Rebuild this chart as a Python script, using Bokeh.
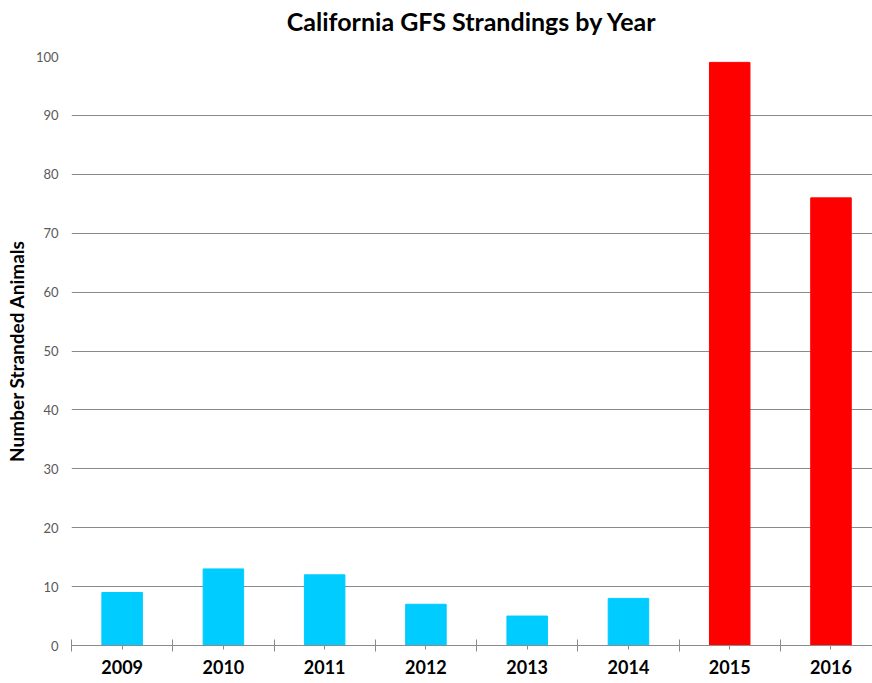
from bokeh.plotting import figure
from bokeh.models import Range1d, FixedTicker, ColumnDataSource, LinearAxis
from bokeh.embed import file_html
from bokeh.resources import INLINE

# Stranding counts per year
years = ["2009", "2010", "2011", "2012", "2013", "2014", "2015", "2016"]
counts = [9, 13, 12, 7, 5, 8, 99, 76]
colors = ["#00CCFF"] * 6 + ["#FF0000"] * 2
y_ticks = [0, 10, 20, 30, 40, 50, 60, 70, 80, 90, 100]
title_text = "California GFS Strandings by Year"

xs = list(range(len(years)))
src = ColumnDataSource(dict(x=xs, top=counts, color=colors))

x_start, x_end = -0.5, 7.41
p = figure(
    width=872, height=683,
    output_backend="svg", toolbar_location=None,
    x_range=Range1d(x_start, x_end), y_range=Range1d(0, 100),
    min_border_left=71, min_border_right=0,
    min_border_top=56, min_border_bottom=38,
)
p.outline_line_color = None
p.background_fill_color = "white"
p.border_fill_color = "white"

p.vbar(x="x", top="top", width=0.4, color="color", source=src)

# heading: a bare axis above the plot whose label carries the chart title
heading = LinearAxis(
    ticker=FixedTicker(ticks=[]),
    axis_line_color=None,
    major_tick_line_color=None, minor_tick_line_color=None,
    major_tick_in=0, major_tick_out=0, minor_tick_in=0, minor_tick_out=0,
    major_label_standoff=0,
    axis_label=title_text,
    axis_label_standoff=21,
    axis_label_text_font="Lato",
    axis_label_text_font_size="25px",
    axis_label_text_font_style="bold",
    axis_label_text_color="black",
)
p.add_layout(heading, "above")

# y axis: labels only, grid lines carry the scale
p.yaxis.ticker = FixedTicker(ticks=y_ticks)
p.yaxis.axis_line_color = None
p.yaxis.major_tick_line_color = None
p.yaxis.minor_tick_line_color = None
p.yaxis.major_tick_in = 0
p.yaxis.major_tick_out = 0
p.yaxis.minor_tick_in = 0
p.yaxis.minor_tick_out = 0
p.yaxis.major_label_standoff = 13
p.yaxis.major_label_text_font = "Lato"
p.yaxis.major_label_text_font_size = "13px"
p.yaxis.major_label_text_color = "#595959"
p.yaxis.axis_label = "Number Stranded Animals"
p.yaxis.axis_label_text_font = "Lato"
p.yaxis.axis_label_text_font_size = "19px"
p.yaxis.axis_label_text_font_style = "bold"
p.yaxis.axis_label_text_color = "black"
p.yaxis.axis_label_standoff = 5

p.ygrid.ticker = FixedTicker(ticks=y_ticks)
p.ygrid.grid_line_color = "#8a8a8a"
p.ygrid.grid_line_width = 1
p.xgrid.grid_line_color = None

# x axis: year labels at bar centres, dividers between categories
xaxis = p.below[0]
xaxis.ticker = FixedTicker(ticks=xs, minor_ticks=[i - 0.5 for i in range(len(years) + 1)])
xaxis.major_label_overrides = {i: y for i, y in enumerate(years)}
xaxis.axis_line_color = "#8a8a8a"
xaxis.major_tick_line_color = "#8a8a8a"
xaxis.major_tick_in = 0
xaxis.major_tick_out = 4
xaxis.minor_tick_line_color = "#8a8a8a"
xaxis.minor_tick_in = 6
xaxis.minor_tick_out = 6
xaxis.major_label_standoff = 8
xaxis.major_label_text_font = "Lato"
xaxis.major_label_text_font_size = "18px"
xaxis.major_label_text_font_style = "bold"
xaxis.major_label_text_color = "black"

open("out.html", "w").write(file_html(p, INLINE))
